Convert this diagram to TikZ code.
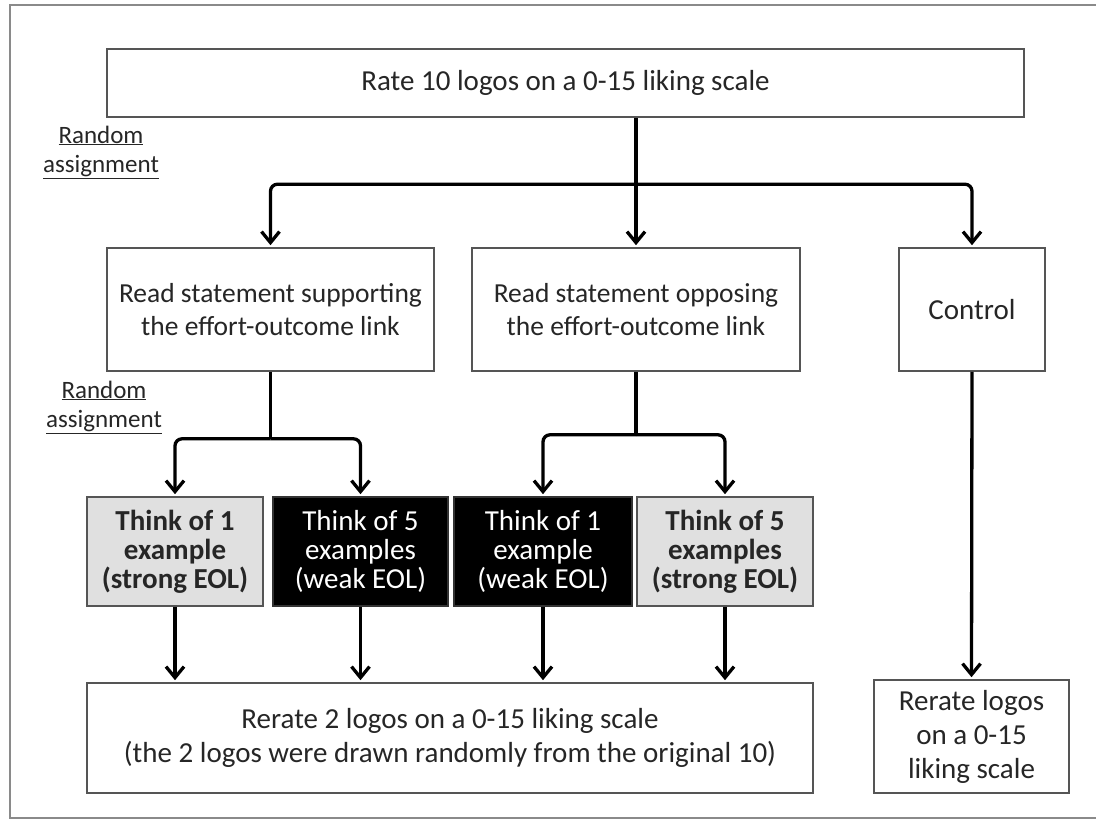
\documentclass[tikz,border=0pt]{standalone}
\usepackage{fontspec}
\setmainfont{Carlito}
\usetikzlibrary{arrows.meta,calc}
\definecolor{txt}{HTML}{262626}
\definecolor{boxline}{HTML}{555555}
\definecolor{frameline}{HTML}{8A8A8A}
\definecolor{lightfill}{HTML}{E0E0E0}
\begin{document}
\begin{tikzpicture}[x=1pt,y=-1pt,
  box/.style={draw=boxline,line width=1.6pt,fill=white,text=txt,align=center,inner sep=0pt,
    font=\fontsize{29}{33}\selectfont},
  midbox/.style={box,font=\fontsize{27.5}{33}\selectfont},
  greybox/.style={box,fill=lightfill,font=\fontsize{29}{29}\selectfont\bfseries},
  blackbox/.style={box,fill=black,draw=black!80,text=white,font=\fontsize{29}{29}\selectfont},
  arr/.style={line width=3.3pt,draw=black,-{Straight Barb[length=11pt,width=18pt,line width=3.3pt]},shorten >=2pt},
  conn/.style={line width=3.3pt,draw=black},
  lbl/.style={text=txt,align=center,font=\fontsize{25}{29}\selectfont,inner sep=0pt}]
\useasboundingbox (0,0) rectangle (1096,820);
\draw[frameline,line width=2.5pt] (10,5) rectangle (1110,818);

\node[box,minimum width=917pt,minimum height=68pt] (top) at (565.5,83) {Rate 10 logos on a 0-15 liking scale};
\node[lbl] (ra1) at (101,152) {\underline{Random}\\\underline{assignment}};

\node[midbox,minimum width=327pt,minimum height=123pt] (sup) at (270.5,309.5) {Read statement supporting\\the effort-outcome link};
\node[midbox,minimum width=328pt,minimum height=123pt] (opp) at (636,309.5) {Read statement opposing\\the effort-outcome link};
\node[box,minimum width=146pt,minimum height=123pt] (ctrl) at (972,309.5) {Control};
\node[lbl] (ra2) at (104,407) {\underline{Random}\\\underline{assignment}};

\node[greybox,minimum width=176pt,minimum height=109pt] (g1) at (175,551.5) {Think of 1\\example\\(strong EOL)};
\node[blackbox,minimum width=175pt,minimum height=109pt] (b2) at (360.5,551.5) {Think of 5\\examples\\(weak EOL)};
\node[blackbox,minimum width=178pt,minimum height=109pt] (b3) at (543,551.5) {Think of 1\\example\\(weak EOL)};
\node[greybox,minimum width=176pt,minimum height=109pt] (g4) at (725,551.5) {Think of 5\\examples\\(strong EOL)};

\node[box,minimum width=726pt,minimum height=110pt,font=\fontsize{29}{34}\selectfont] (bot) at (450,738) {Rerate 2 logos on a 0-15 liking scale\\(the 2 logos were drawn randomly from the original 10)};
\node[box,minimum width=195pt,minimum height=113pt,font=\fontsize{29}{34}\selectfont] (rr) at (971.5,736.5) {Rerate logos\\on a 0-15\\liking scale};

% first level
\coordinate (j1) at ($(opp.north)+(0,-63)$);
\draw[arr] (top.south -| opp.north) -- (opp.north);
\draw[arr,rounded corners=7pt] (j1) -| (sup.north);
\draw[arr,rounded corners=7pt] (j1) -| (ctrl.north);

% second level left
\coordinate (j2) at ($(sup.south)+(0,67)$);
\draw[conn] (sup.south) -- (j2);
\draw[arr,rounded corners=7pt] (j2) -| (g1.north);
\draw[arr,rounded corners=7pt] (j2) -| (b2.north);

% second level middle
\coordinate (j3) at ($(opp.south)+(0,63)$);
\draw[conn] (opp.south) -- (j3);
\draw[arr,rounded corners=7pt] (j3) -| (b3.north);
\draw[arr,rounded corners=7pt] (j3) -| (g4.north);

% to bottom
\foreach \n in {g1,b2,b3,g4}{
  \draw[arr] (\n.south) -- (\n.south |- bot.north);
}
\draw[arr] (ctrl.south) -- (rr.north);
\end{tikzpicture}
\end{document}
